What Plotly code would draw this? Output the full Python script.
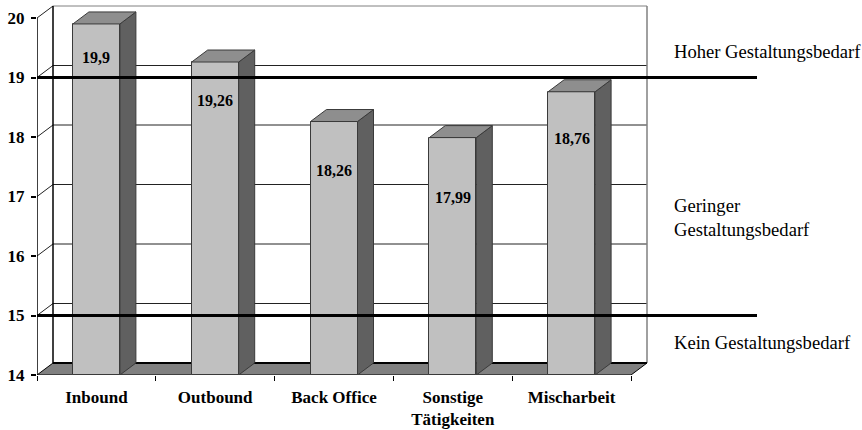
import plotly.graph_objects as go

# Mean scores per type of call-centre work
categories = ["Inbound", "Outbound", "Back Office", "Sonstige<br>Tätigkeiten", "Mischarbeit"]
values = [19.9, 19.26, 18.26, 17.99, 18.76]
value_labels = ["19,9", "19,26", "18,26", "17,99", "18,76"]
label_y = [19.33, 18.62, 17.43, 16.99, 17.98]
y_ticks = [14, 15, 16, 17, 18, 19, 20]
thresholds = [15, 19]
zone_labels = ["Hoher Gestaltungsbedarf", "Geringer<br>Gestaltungsbedarf", "Kein Gestaltungsbedarf"]
zone_label_y = [19.43, 16.64, 14.55]

# ---- geometry of the pseudo-3D frame ----
W, H = 862, 430
M_L, M_T, M_B = 37, 5, 55
CAT_PX = 118.8          # pixels per category slot
UNIT_PX = 59.5          # pixels per score unit
Y0 = 14
DX = 16 / CAT_PX        # depth offset (x, category units)
DY = 12 / UNIT_PX       # depth offset (y, score units)
BAR_W = 47 / CAT_PX
N = len(categories)
x_max = (W - M_L) / CAT_PX
y_max = Y0 + (H - M_T - M_B) / UNIT_PX
centers = [i + 0.5 for i in range(N)]

FONT = "Liberation Serif"
FRONT = "#c0c0c0"
SIDE = "#606060"
TOP = "#8e8e8e"
EDGE = "#3a3a3a"

fig = go.Figure()

shapes = []

def seg(x0, y0, x1, y1, color="black", width=1, layer="below"):
    shapes.append(dict(type="line", xref="x", yref="y", x0=x0, y0=y0, x1=x1, y1=y1,
                       line=dict(color=color, width=width), layer=layer))

# back wall and left wall gridlines
for t in y_ticks[1:]:
    col = "#808080" if t == y_ticks[-1] else "#222222"
    seg(0, t, DX, t + DY, "#222222")
    seg(DX, t + DY, N + DX, t + DY, col)
# wall edges
seg(DX, Y0 + DY, DX, y_ticks[-1] + DY, "black", 1.5)
seg(N + DX, Y0 + DY, N + DX, y_ticks[-1] + DY, "#808080", 1.5)

# floor
floor = (f"M 0,{Y0} L {N},{Y0} L {N + DX},{Y0 + DY} L {DX},{Y0 + DY} Z")
shapes.append(dict(type="path", xref="x", yref="y", path=floor, fillcolor="#808080",
                   line=dict(color="black", width=1), layer="below"))
seg(DX, Y0 + DY, N + DX, Y0 + DY, "black", 2)

# front value axis line
seg(0, Y0, 0, y_ticks[-1], "black", 1.5)

# front faces of the bars
fig.add_trace(go.Bar(
    x=centers, y=[v - Y0 for v in values], base=Y0, width=BAR_W,
    marker=dict(color=FRONT, line=dict(color=EDGE, width=1)),
    hoverinfo="skip", showlegend=False,
))

# side and top faces
for c, v in zip(centers, values):
    xr = c + BAR_W / 2
    xl = c - BAR_W / 2
    fig.add_trace(go.Scatter(
        x=[xr, xr, xr + DX, xr + DX, xr], y=[Y0, v, v + DY, Y0 + DY, Y0],
        mode="lines", fill="toself", fillcolor=SIDE, line=dict(color=EDGE, width=1),
        hoverinfo="skip", showlegend=False,
    ))
    fig.add_trace(go.Scatter(
        x=[xl, xr, xr + DX, xl + DX, xl], y=[v, v, v + DY, v + DY, v],
        mode="lines", fill="toself", fillcolor=TOP, line=dict(color=EDGE, width=1),
        hoverinfo="skip", showlegend=False,
    ))

# threshold lines across the chart
line_end = (757 - M_L) / CAT_PX
for t in thresholds:
    seg(0, t, line_end, t, "black", 3, layer="above")

annotations = []
for c, ly, txt in zip(centers, label_y, value_labels):
    annotations.append(dict(x=c, y=ly, xref="x", yref="y", text=f"<b>{txt}</b>",
                            showarrow=False, font=dict(family=FONT, size=16, color="black")))

zone_x = (672 - M_L) / CAT_PX
for zy, txt in zip(zone_label_y, zone_labels):
    annotations.append(dict(x=zone_x, y=zy, xref="x", yref="y", text=txt, xanchor="left",
                            align="left", showarrow=False,
                            font=dict(family=FONT, size=18.6, color="black")))

fig.update_layout(
    width=W, height=H,
    margin=dict(l=M_L, r=0, t=M_T, b=M_B),
    paper_bgcolor="white", plot_bgcolor="white",
    shapes=shapes, annotations=annotations,
    bargap=0,
    xaxis=dict(range=[0, x_max], tickvals=centers, ticktext=[f"<b>{c}</b>" for c in categories],
               ticks="", showline=False, showgrid=False, zeroline=False,
               ticklabelstandoff=10,
               tickfont=dict(family=FONT, size=17, color="black"),
               minor=dict(tickvals=list(range(N + 1)), ticks="outside", ticklen=5,
                          tickcolor="black", tickwidth=1, showgrid=False),
               fixedrange=True),
    yaxis=dict(range=[Y0, y_max], tickvals=y_ticks, ticktext=[f"<b>{t}</b>" for t in y_ticks],
               ticks="outside", ticklen=5, tickcolor="black", tickwidth=1.5,
               ticklabelstandoff=3,
               showline=False, showgrid=False, zeroline=False,
               tickfont=dict(family=FONT, size=17, color="black"),
               fixedrange=True),
)

fig.write_html("out.html")
